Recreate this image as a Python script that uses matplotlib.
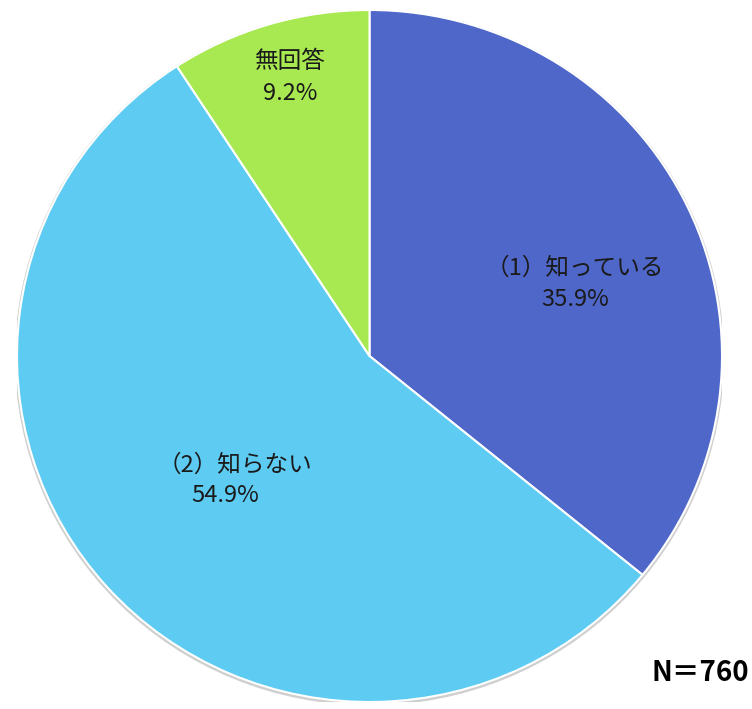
import matplotlib.pyplot as plt
from matplotlib.patches import Ellipse

plt.rcParams['font.family'] = ['Noto Sans CJK JP', 'DejaVu Sans']

# Survey answers (N=760)
labels = ['（1）知っている', '（2）知らない', '無回答']
shares = [35.9, 54.9, 9.2]
colors = ['#4f67c8', '#5ecbf2', '#a8e851']
sample_size = 760

fig = plt.figure(figsize=(7.52, 7.09), dpi=100)
W, H = 752, 709
# pie area in pixels: left, bottom, width, height
ax = fig.add_axes([17 / W, 7 / H, 705 / W, 692 / H])

# faint grey shadow under the pie
ax.add_patch(Ellipse((0.0, -0.004), 2.012, 2.012, facecolor='#cfcfcf',
                     edgecolor='none', zorder=0))

wedges, _ = ax.pie(shares, colors=colors, startangle=90, counterclock=False,
                   radius=1.0,
                   wedgeprops=dict(edgecolor='white', linewidth=1.5, zorder=1))
ax.set_aspect('auto')
ax.set_xlim(-1, 1)
ax.set_ylim(-1, 1)
ax.axis('off')

# label positions in pixel space of the figure
label_pos = [(575, 268), (235, 465), (290, 62)]
pct_pos = [(575, 299), (225, 496), (290, 94)]
for lab, val, (lx, ly), (px, py) in zip(labels, shares, label_pos, pct_pos):
    fig.text(lx / W, 1 - ly / H, lab, ha='center', va='center',
             fontsize=17, color='#1a1a1a')
    fig.text(px / W, 1 - py / H, f'{val:.1f}%', ha='center', va='center',
             fontsize=17, color='#1a1a1a')

fig.text(749 / W, 1 - 673 / H, f'N＝{sample_size}', ha='right', va='center',
         fontsize=20, fontweight='bold', color='black')

fig.savefig('out.png', dpi=100)
